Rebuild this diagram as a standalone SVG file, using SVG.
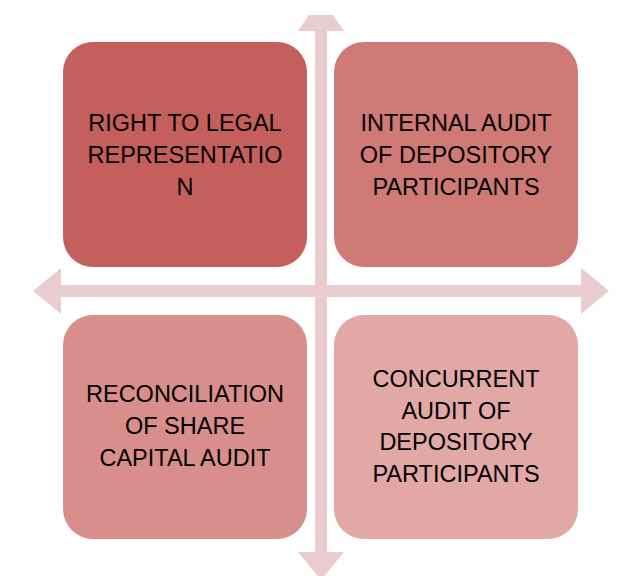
<svg xmlns="http://www.w3.org/2000/svg" width="618" height="576" viewBox="0 0 618 576">
<style>
.box{stroke:none}
.lbl{font-family:"Liberation Sans",Arial,sans-serif;font-size:23.5px;fill:#000;text-anchor:middle}
.arr{fill:#E9CDCE}
</style>
<rect width="618" height="576" fill="#fff"/>
<g id="connectors">
<rect class="arr" x="315" y="30" width="12" height="523"/>
<rect class="arr" x="60" y="285" width="522" height="12"/>
<polygon class="arr" points="309,15 333,15 344,31 298,31"/>
<polygon class="arr" points="298,552 344,552 321,580"/>
<polygon class="arr" points="33,291 61,268 61,314"/>
<polygon class="arr" points="609,291 581,268 581,314"/>
</g>
<g id="node-tl">
<rect class="box" x="63" y="42" width="244" height="225" rx="30" fill="#C55F5C"/>
<text class="lbl" x="185" y="131">RIGHT TO LEGAL</text>
<text class="lbl" x="185" y="163">REPRESENTATIO</text>
<text class="lbl" x="185" y="195">N</text>
</g>
<g id="node-tr">
<rect class="box" x="334" y="42" width="244" height="225" rx="30" fill="#CF7A76"/>
<text class="lbl" x="456" y="131">INTERNAL AUDIT</text>
<text class="lbl" x="456" y="163">OF DEPOSITORY</text>
<text class="lbl" x="456" y="195">PARTICIPANTS</text>
</g>
<g id="node-bl">
<rect class="box" x="63" y="315" width="244" height="224" rx="30" fill="#D88F8C"/>
<text class="lbl" x="185" y="402">RECONCILIATION</text>
<text class="lbl" x="185" y="434">OF SHARE</text>
<text class="lbl" x="185" y="466">CAPITAL AUDIT</text>
</g>
<g id="node-br">
<rect class="box" x="334" y="315" width="244" height="224" rx="30" fill="#E1A8A6"/>
<text class="lbl" x="456" y="387">CONCURRENT</text>
<text class="lbl" x="456" y="418.5">AUDIT OF</text>
<text class="lbl" x="456" y="450">DEPOSITORY</text>
<text class="lbl" x="456" y="481.5">PARTICIPANTS</text>
</g>
</svg>
